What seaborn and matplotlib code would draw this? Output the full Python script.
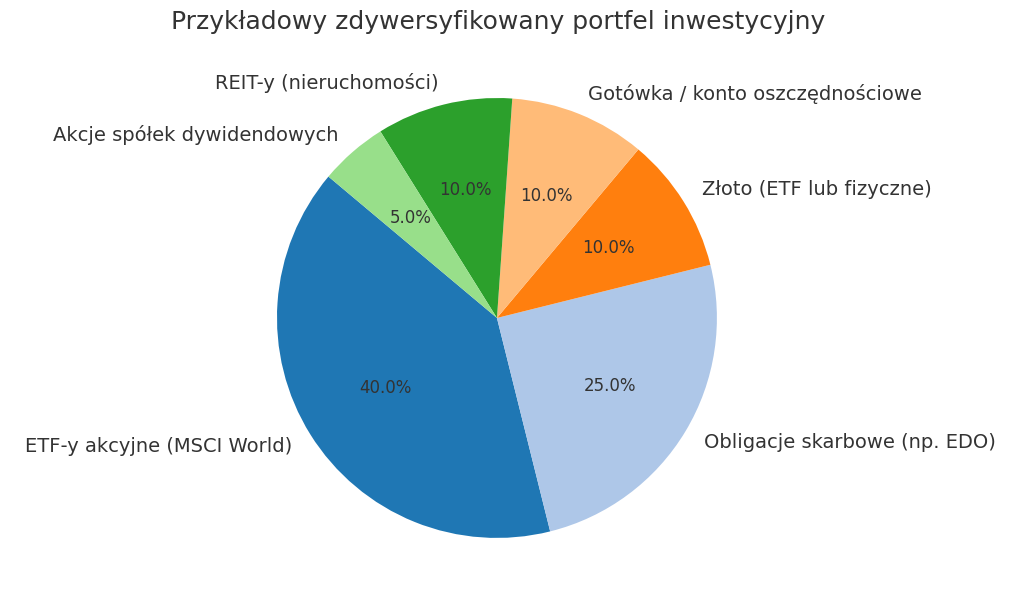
import matplotlib.pyplot as plt
import seaborn as sns

labels = ['ETF-y akcyjne (MSCI World)', 'Obligacje skarbowe (np. EDO)', 'Złoto (ETF lub fizyczne)',
          'Gotówka / konto oszczędnościowe', 'REIT-y (nieruchomości)', 'Akcje spółek dywidendowych']
shares = [40, 25, 10, 10, 10, 5]

pal = sns.color_palette('tab20', 6)
colors = [pal[0], pal[1], pal[2], pal[3], pal[4], pal[5]]

fig = plt.figure(figsize=(10.24, 6.06), dpi=100)
ax = fig.add_axes([0.2168, 0.0215, 0.537, 0.9076])
wedges, texts, autotexts = ax.pie(shares, labels=labels, colors=colors, autopct='%1.1f%%',
                                  startangle=140, textprops={'fontsize': 14, 'color': '#333333'})
for t in autotexts:
    t.set_fontsize(12)
ax.set_xlim(-1.25, 1.25)
ax.set_ylim(-1.25, 1.25)
ax.set_aspect('equal')
fig.suptitle('Przykładowy zdywersyfikowany portfel inwestycyjny', fontsize=18, color='#333333',
             x=0.486, y=0.964, va='center')
plt.savefig('out.png', dpi=100)
